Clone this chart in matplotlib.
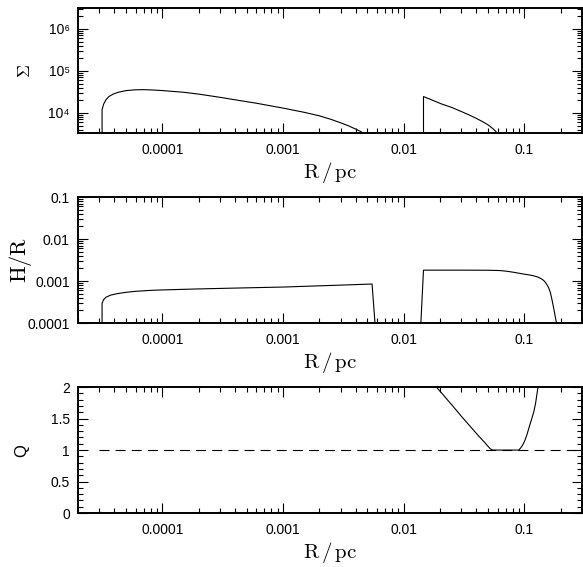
import numpy as np
import matplotlib.pyplot as plt
from matplotlib.ticker import MultipleLocator, LogLocator, NullFormatter

plt.rcParams['mathtext.fontset'] = 'cm'
plt.rcParams['font.family'] = ['Liberation Sans', 'DejaVu Sans']

# surface density, inner disc
sig1_r = [3.16e-5, 3.16e-5, 3.25e-5, 3.4e-5, 3.6e-5, 3.9e-5, 4.3e-5, 5e-5, 6e-5, 7e-5,
          8.5e-5, 1e-4, 1.5e-4, 2e-4, 3e-4, 4e-4, 6e-4, 1e-3, 1.5e-3, 2e-3, 2.5e-3,
          3e-3, 3.5e-3, 4e-3, 4.4e-3, 4.8e-3]
sig1 = [3.0e3, 1.18e4, 1.6e4, 2.05e4, 2.45e4, 2.8e4, 3.1e4, 3.4e4, 3.55e4, 3.58e4,
        3.5e4, 3.4e4, 3.1e4, 2.8e4, 2.35e4, 2.05e4, 1.7e4, 1.3e4, 1.03e4, 8.5e3, 7.0e3,
        5.8e3, 4.9e3, 4.1e3, 3.6e3, 3.1e3]
# surface density, outer disc
sig2_r = [0.0146, 0.0146, 0.017, 0.0204, 0.025, 0.030, 0.035, 0.040, 0.045, 0.050,
          0.055, 0.058, 0.061]
sig2 = [3.0e3, 2.45e4, 2.05e4, 1.65e4, 1.35e4, 1.08e4, 8.9e3, 7.4e3, 6.2e3, 5.2e3,
        4.2e3, 3.6e3, 3.1e3]

# aspect ratio H/R
hr1_r = [3.16e-5, 3.16e-5, 3.25e-5, 3.4e-5, 3.7e-5, 4.2e-5, 5e-5, 6e-5, 8e-5, 1e-4,
         2e-4, 5e-4, 1e-3, 2e-3, 3e-3, 5.47e-3, 5.8e-3]
hr1 = [9e-5, 2.95e-4, 3.6e-4, 4.1e-4, 4.6e-4, 5.0e-4, 5.4e-4, 5.7e-4, 6.0e-4, 6.15e-4,
       6.5e-4, 6.9e-4, 7.2e-4, 7.7e-4, 8.0e-4, 8.5e-4, 9e-5]
hr2_r = [0.01386, 0.0146, 0.03, 0.05, 0.063, 0.072, 0.0815, 0.09, 0.10, 0.11, 0.12,
         0.13, 0.138, 0.145, 0.15, 0.155, 0.16, 0.165, 0.17, 0.175, 0.18, 0.186]
hr2 = [9e-5, 1.82e-3, 1.82e-3, 1.81e-3, 1.78e-3, 1.71e-3, 1.62e-3, 1.54e-3, 1.46e-3,
       1.40e-3, 1.33e-3, 1.24e-3, 1.14e-3, 1.03e-3, 9.2e-4, 8.0e-4, 6.7e-4, 5.2e-4,
       3.5e-4, 2.3e-4, 1.5e-4, 9e-5]

# Toomre Q
q_r = [0.0187, 0.021, 0.0235, 0.0258, 0.030, 0.0355, 0.042, 0.047, 0.050, 0.052, 0.0537,
       0.056, 0.0897, 0.093, 0.097, 0.101, 0.105, 0.110, 0.115, 0.120, 0.124, 0.128, 0.131]
q = [2.0, 1.89, 1.78, 1.69, 1.54, 1.38, 1.22, 1.12, 1.06, 1.025, 1.005,
     1.0, 1.0, 1.03, 1.08, 1.15, 1.24, 1.37, 1.49, 1.61, 1.74, 1.92, 2.05]
q_ref_r = [3.0e-5, 0.27]
q_ref = [1.0, 1.0]

xticks = [1e-4, 1e-3, 1e-2, 1e-1]
xticklabels = ['0.0001', '0.001', '0.01', '0.1']


def style_ax(ax):
    ax.set_xscale('log')
    ax.set_xlim(2e-5, 0.3)
    ax.set_xticks(xticks)
    ax.set_xticklabels(xticklabels)
    ax.xaxis.set_minor_locator(LogLocator(base=10, subs=np.arange(2, 10)))
    ax.xaxis.set_minor_formatter(NullFormatter())
    ax.tick_params(which='both', direction='in', top=True, right=True, width=0.8,
                   labelsize=10)
    ax.tick_params(which='major', length=7)
    ax.tick_params(which='minor', length=3.6)
    ax.tick_params(axis='x', pad=7.5)
    ax.tick_params(axis='y', pad=6)
    for s in ax.spines.values():
        s.set_linewidth(1.4)
    ax.set_xlabel(r'$\mathrm{R\,/\,pc}$', fontsize=15, labelpad=2)


fig = plt.figure(figsize=(5.83, 5.67), dpi=100)
ax1 = fig.add_axes([0.134, 0.7654, 0.864, 0.2205])
ax2 = fig.add_axes([0.134, 0.4303, 0.864, 0.222])
ax3 = fig.add_axes([0.134, 0.0952, 0.864, 0.222])

###

ax1.plot(sig1_r, sig1, 'k-', lw=0.8)
ax1.plot(sig2_r, sig2, 'k-', lw=0.8)
ax1.set_yscale('log')
ax1.set_ylim(10**3.52, 10**6.5)
style_ax(ax1)
ax1.set_yticks([1e4, 1e5, 1e6])
ax1.set_yticklabels(['10\u2074', '10\u2075', '10\u2076'])
ax1.yaxis.set_minor_locator(LogLocator(base=10, subs=np.arange(2, 10)))
ax1.yaxis.set_minor_formatter(NullFormatter())
ax1.set_ylabel(r'$\Sigma$', fontsize=13)
ax1.yaxis.set_label_coords(-0.088, 0.5)

###

ax2.plot(hr1_r, hr1, 'k-', lw=0.8)
ax2.plot(hr2_r, hr2, 'k-', lw=0.8)
ax2.set_yscale('log')
ax2.set_ylim(1e-4, 0.1)
style_ax(ax2)
ax2.set_yticks([1e-4, 1e-3, 1e-2, 1e-1])
ax2.set_yticklabels(['0.0001', '0.001', '0.01', '0.1'])
ax2.yaxis.set_minor_locator(LogLocator(base=10, subs=np.arange(2, 10)))
ax2.yaxis.set_minor_formatter(NullFormatter())
ax2.set_ylabel(r'$\mathrm{H/R}$', fontsize=16)
ax2.yaxis.set_label_coords(-0.088, 0.5)

###

ax3.plot(q_r, q, 'k-', lw=0.8)
ax3.plot(q_ref_r, q_ref, color='k', lw=0.8, linestyle=(0, (9, 5.5)))
ax3.set_ylim(0, 2)
style_ax(ax3)
ax3.set_yticks([0, 0.5, 1, 1.5, 2])
ax3.set_yticklabels(['0', '0.5', '1', '1.5', '2'])
ax3.yaxis.set_minor_locator(MultipleLocator(0.1))
ax3.set_ylabel('Q', fontsize=12)
ax3.yaxis.set_label_coords(-0.098, 0.5)

plt.savefig('out.png', dpi=100)
